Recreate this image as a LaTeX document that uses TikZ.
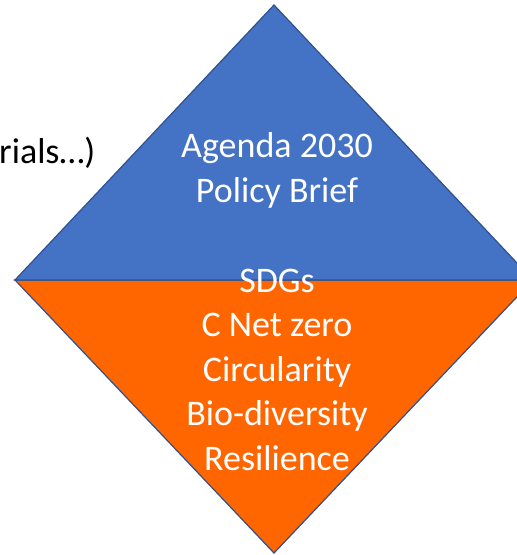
\documentclass[tikz,border=0pt]{standalone}
\usepackage{fontspec}
\setmainfont{Carlito}
\usepackage{tikz}
\usetikzlibrary{positioning,calc}
\definecolor{office}{HTML}{4472C4}
\definecolor{officeedge}{HTML}{2F528F}
\definecolor{flame}{HTML}{FF6600}
\tikzset{
  halfbox/.style={
    fill=#1, draw=officeedge, line width=1.2pt, line join=miter
  },
  halfbox/.default=office,
  goaltext/.style={
    font=\fontsize{36}{44.5}\selectfont, text=white, align=center,
    inner sep=0pt
  },
  sidetext/.style={
    font=\fontsize{36}{44.5}\selectfont, text=black, inner sep=0pt
  },
}
\begin{document}
\begin{tikzpicture}[x=1pt,y=-1pt]
\useasboundingbox (0,0) rectangle (517,555);
\clip (0,0) rectangle (517,555);

% Diamond corners
\coordinate (top) at (274,5);
\coordinate (west) at (15,280);
\coordinate (east) at (533,280);
\coordinate (bottom) at (274,553);

% Two halves of the diamond
\draw[halfbox=flame] (west) -- (east) -- (bottom) -- cycle;
\draw[halfbox] (west) -- (top) -- (east) -- cycle;

% Texts (base = baseline of the last line)
\node[goaltext, anchor=base] (brief) at (277,202) {Agenda 2030\\Policy Brief};
\node[goaltext, anchor=base] (goals) at (277,470)
  {SDGs\\C Net zero\\Circularity\\Bio-diversity\\Resilience};
\node[sidetext, anchor=base west] (side) at (-1,163) {rials…)};

\end{tikzpicture}
\end{document}
